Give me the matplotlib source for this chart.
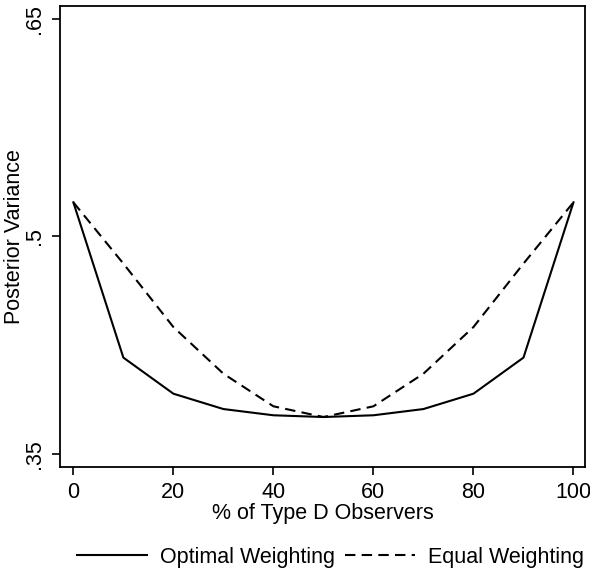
import numpy as np
import matplotlib
matplotlib.use("Agg")
import matplotlib.pyplot as plt

plt.rcParams['font.family'] = ['Liberation Sans', 'DejaVu Sans']

# share of type D observers (%)
share_d = [0, 10, 20, 30, 40, 50, 60, 70, 80, 90, 100]
# posterior variance
optimal = [.5235, .4163, .3914, .3808, .3765, .3753, .3765, .3808, .3914, .4163, .5235]
equal = [.5235, .4812, .4374, .4052, .3827, .3753, .3827, .4052, .4374, .4812, .5235]

x_ticks = [0, 20, 40, 60, 80, 100]
y_ticks = [.35, .5, .65]
y_labels = [".35", ".5", ".65"]

fs = 15.5

fig = plt.figure(figsize=(5.9, 5.73), dpi=100)
ax = fig.add_axes([0.1017, 0.185, 0.8898, 0.8045])

l1, = ax.plot(share_d, optimal, color='black', lw=1.5, label='Optimal Weighting')
l2, = ax.plot(share_d, equal, color='black', lw=1.5, ls=(0, (5, 3)), label='Equal Weighting')

ax.set_xlim(-2.67, 102.3)
ax.set_ylim(.3408, .659)
ax.set_xticks(x_ticks)
ax.set_yticks(y_ticks)
ax.set_yticklabels(y_labels, rotation=90, va='center')
ax.tick_params(direction='out', length=6, width=1.2, labelsize=fs, color='black', pad=5)
for s in ax.spines.values():
    s.set_linewidth(1.3)

ax.set_xlabel('% of Type D Observers', fontsize=fs, labelpad=0)
# Stata puts the title right against the tick labels
ax.set_ylabel('Posterior Variance', fontsize=fs, labelpad=-1)

fig.legend(handles=[l1, l2], loc='center', bbox_to_anchor=(0.56, 0.027), ncol=2,
           frameon=False, fontsize=fs, handlelength=3.25, columnspacing=0.5, handletextpad=0.6)

fig.savefig('out.png', dpi=100)
